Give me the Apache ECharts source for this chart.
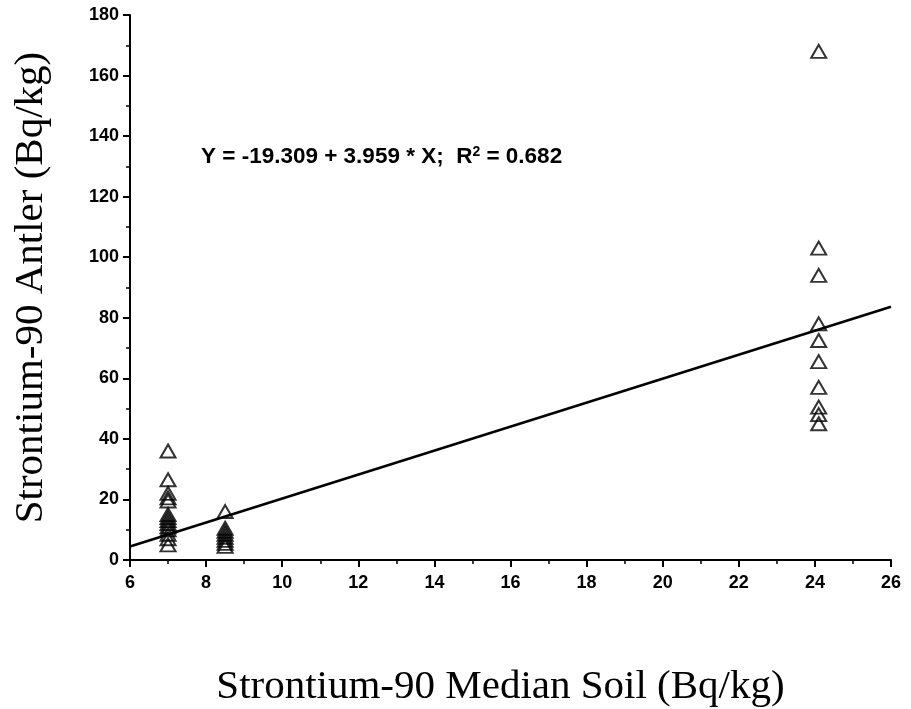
<!DOCTYPE html>
<html>
<head>
<meta charset="utf-8">
<script src="https://cdn.jsdelivr.net/npm/echarts@6/dist/echarts.min.js"></script>
<style>
  html, body { margin: 0; padding: 0; background: #fff; }
  #chart { width: 911px; height: 709px; }
</style>
</head>
<body>
<div id="chart"></div>
<script>
  // soil values (x) and antler values (y) per sampling group
  const soilA = 7;
  const antlerA = [36, 26.5, 22, 20.5, 19.5, 15, 14, 13, 12, 11, 10, 8.5, 7, 5];
  const soilB = 8.5;
  const antlerB = [16, 10.5, 9.5, 8.5, 7.5, 6.5, 5.5, 4.5];
  const soilC = 24.1;
  const antlerC = [168, 103, 94, 78, 72.5, 65.5, 57, 50.5, 48, 45];

  const intercept = -19.309;
  const slope = 3.959;
  const fitRange = [6, 26];

  const xTicks = [6, 26, 2];
  const yTicks = [0, 180, 20];

  const points = []
    .concat(antlerA.map((v) => [soilA, v]))
    .concat(antlerB.map((v) => [soilB, v]))
    .concat(antlerC.map((v) => [soilC, v]));
  const fitLine = fitRange.map((x) => [x, intercept + slope * x]);

  const chart = echarts.init(document.getElementById('chart'));
  const sans = 'Liberation Sans, Arial, sans-serif';
  const serif = 'Liberation Serif, Times New Roman, serif';
  const tickFont = { fontFamily: sans, fontWeight: 'bold', fontSize: 18, color: '#000' };

  chart.setOption({
    animation: false,
    backgroundColor: '#fff',
    title: {
      left: 196,
      top: 140,
      text: '{a|Y = -19.309 + 3.959 * X;  R}{s|2}{a| = 0.682}',
      textStyle: {
        rich: {
          a: { fontFamily: sans, fontWeight: 'bold', fontSize: 22.5, color: '#000' },
          s: { fontFamily: sans, fontWeight: 'bold', fontSize: 14, color: '#000', verticalAlign: 'top', padding: [0, 0, 10, 0] },
        },
      },
    },
    grid: { left: 130, right: 20, top: 15, bottom: 149, outerBoundsMode: 'none' },
    xAxis: {
      type: 'value',
      min: xTicks[0],
      max: xTicks[1],
      interval: xTicks[2],
      name: 'Strontium-90 Median Soil (Bq/kg)',
      nameLocation: 'middle',
      nameGap: 107,
      nameTextStyle: { fontFamily: serif, fontSize: 41, color: '#000', padding: [0, 20, 0, 0] },
      axisLine: { lineStyle: { color: '#000', width: 2 } },
      axisTick: { show: true, length: 7, lineStyle: { color: '#000', width: 2 } },
      minorTick: { show: true, splitNumber: 2, length: 4, lineStyle: { color: '#000', width: 1.5 } },
      splitLine: { show: false },
      axisLabel: Object.assign({ margin: 14 }, tickFont),
    },
    yAxis: {
      type: 'value',
      min: yTicks[0],
      max: yTicks[1],
      interval: yTicks[2],
      name: 'Strontium-90 Antler (Bq/kg)',
      nameLocation: 'middle',
      nameGap: 78,
      nameTextStyle: { fontFamily: serif, fontSize: 41, color: '#000' },
      axisLine: { show: true, lineStyle: { color: '#000', width: 2 } },
      axisTick: { show: true, length: 7, lineStyle: { color: '#000', width: 2 } },
      minorTick: { show: true, splitNumber: 2, length: 4, lineStyle: { color: '#000', width: 1.5 } },
      splitLine: { show: false },
      axisLabel: Object.assign({ margin: 11 }, tickFont),
    },
    series: [
      {
        type: 'line',
        data: fitLine,
        symbol: 'none',
        lineStyle: { color: '#000', width: 2.5 },
        z: 1,
      },
      {
        type: 'scatter',
        data: points,
        symbol: 'triangle',
        symbolSize: [15, 13],
        itemStyle: { color: 'rgba(255,255,255,0)', borderColor: '#000', borderWidth: 2 },
        z: 2,
      },
    ],
  });
</script>
</body>
</html>
